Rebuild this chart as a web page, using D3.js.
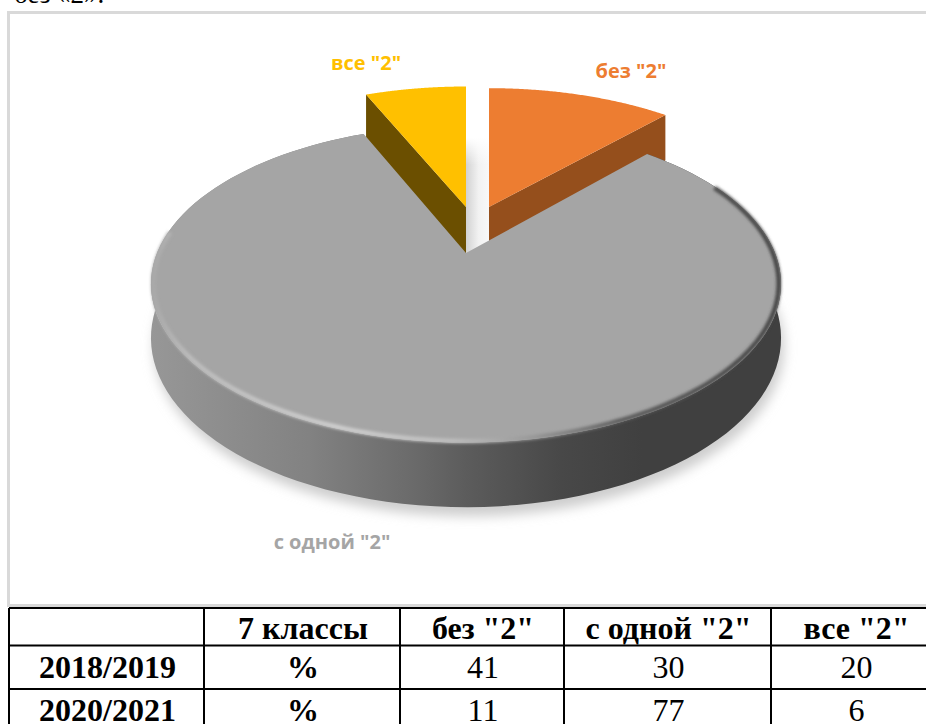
<!DOCTYPE html>
<html><head><meta charset="utf-8">
<script src="https://cdn.jsdelivr.net/npm/d3@7/dist/d3.min.js"></script>
<style>html,body{margin:0;padding:0;background:#fff;overflow:hidden}svg{display:block}</style>
</head><body><svg id="c" width="926" height="724"></svg>
<script>
const categories = ['без "2"', 'с одной "2"', 'все "2"'];
const values = [11, 77, 6];
const sliceColors = ['#ed7d31', '#a5a5a5', '#ffc000'];
const wallColors = ['#954f1c', '#808080', '#6b4f00'];
const tableHeader = ['', '7 классы', 'без "2"', 'с одной "2"', 'все "2"'];
const row1 = ['2018/2019', '%', '41', '30', '20'];
const row2 = ['2020/2021', '%', '11', '77', '6'];

const svg = d3.select('#c');
const defs = svg.append('defs');
const SERIF = '"Liberation Serif","Times New Roman",serif';

function linGrad(id, x1, x2, stops, vertical) {
  const g = defs.append('linearGradient').attr('id', id).attr('gradientUnits', 'userSpaceOnUse');
  if (vertical) g.attr('x1', 0).attr('x2', 0).attr('y1', x1).attr('y2', x2);
  else g.attr('x1', x1).attr('x2', x2).attr('y1', 0).attr('y2', 0);
  stops.forEach(s => g.append('stop').attr('offset', s[0]).attr('stop-color', s[1]));
}
const blur = (id, sd) => defs.append('filter').attr('id', id)
  .attr('x', '-20%').attr('y', '-20%').attr('width', '140%').attr('height', '140%')
  .append('feGaussianBlur').attr('stdDeviation', sd);
blur('b1', 1.4); blur('b2', 6); blur('b3', 1);

linGrad('wall', 151, 781, [[0, '#979797'], [.25, '#828282'], [.42, '#6a6a6a'], [.5, '#5c5c5c'], [.65, '#484848'], [.78, '#404040'], [1, '#404040']]);
linGrad('rim', 151, 781, [[0, '#a8a8a8'], [.06, '#bcbcbc'], [.3, '#cfcfcf'], [.48, '#bdbdbd'], [.6, '#9a9a9a'], [.75, '#5c5c5c'], [1, '#444444']]);
linGrad('gapH', 466, 489, [[0, '#d2d2d2'], [.55, '#f2f2f2'], [1, '#f8f8f8']]);
linGrad('gapV', 138, 165, [[0, '#ffffff'], [1, 'rgba(255,255,255,0)']], true);

// frame
svg.append('rect').attr('x', 8.5).attr('y', 12.5).attr('width', 960).attr('height', 593)
  .attr('fill', '#fff').attr('stroke', '#d9d9d9').attr('stroke-width', 3);

// cropped line above the chart
svg.append('text').attr('x', 14).attr('y', 3).attr('font-family', SERIF).attr('font-size', 27).attr('fill', '#000').text('без «2».');

// pie geometry
const arcs = d3.pie().sort(null)(values);
const geo = [
  {ax: 489, ay: 207, R: 301, H: 142, D: 52},
  {ax: 466, ay: 253, R: 309, H: 152.6, D: 52},
  {ax: 466, ay: 207, R: 302, H: 144, D: 52}
];
const K = 0.195;
function project(g, a, r, drop) {
  const u = r * Math.sin(a), v = -r * Math.cos(a), s = 1 / (1 - K * v);
  return [g.ax + g.R * u * s, g.ay + g.H * v * s + (drop ? g.D * s : 0)];
}
const line = d3.line();
const arcPts = (g, a0, a1, drop) => d3.range(0, 121).map(i => project(g, a0 + (a1 - a0) * i / 120, 1, drop));
const face = (g, d) => line([project(g, 0, 0), ...arcPts(g, d.startAngle, d.endAngle)]) + 'Z';
const radialWall = (g, a) => line([project(g, a, 0), project(g, a, 1), project(g, a, 1, true), project(g, a, 0, true)]) + 'Z';

// shadow
const gg = geo[1], gd = arcs[1];
svg.append('path').attr('filter', 'url(#b2)').attr('fill', '#cdcdcd').attr('transform', 'translate(3,9)')
  .attr('d', line(arcPts(gg, gd.startAngle, gd.endAngle, true)) + 'Z');

// gap between the small slices
svg.append('rect').attr('x', 466).attr('y', 138).attr('width', 24).attr('height', 125).attr('fill', 'url(#gapH)');
svg.append('rect').attr('x', 466).attr('y', 138).attr('width', 24).attr('height', 27).attr('fill', 'url(#gapV)');

// small slices
svg.append('path').attr('fill', wallColors[0]).attr('d', radialWall(geo[0], arcs[0].endAngle));
svg.append('path').attr('fill', wallColors[2]).attr('d', radialWall(geo[2], arcs[2].startAngle));
[0, 2].forEach(i => svg.append('path').attr('fill', sliceColors[i]).attr('d', face(geo[i], arcs[i])));

// main slice: wall, face, rim
svg.append('path').attr('fill', 'url(#wall)').attr('d',
  line([...arcPts(gg, gd.startAngle, gd.endAngle), ...arcPts(gg, gd.startAngle, gd.endAngle, true).reverse()]) + 'Z');
svg.append('path').attr('fill', sliceColors[1]).attr('d', face(gg, gd));
const deg = Math.PI / 180;
svg.append('path').attr('fill', 'none').attr('stroke', 'url(#rim)').attr('stroke-width', 4.5).attr('filter', 'url(#b1)')
  .attr('d', line(d3.range(0, 121).map(i => project(gg, (62 + (278 - 62) * i / 120) * deg, 0.993))));

// labels
const labelPos = [[631, 78], [332, 549], [366, 70]];
svg.selectAll('text.lab').data(categories).join('text').attr('class', 'lab')
  .attr('x', (d, i) => labelPos[i][0]).attr('y', (d, i) => labelPos[i][1])
  .attr('text-anchor', 'middle').attr('font-family', '"Open Sans",sans-serif').attr('font-weight', 700)
  .attr('font-size', 20).attr('fill', (d, i) => sliceColors[i]).text(d => d);

// table
const colX = d3.scaleOrdinal().domain(d3.range(6)).range([9, 204, 400, 564, 771, 940]);
const rowY = d3.scaleOrdinal().domain(d3.range(4)).range([608, 645.5, 689, 732]);
const baselines = [639, 678, 721];
const hl = svg.append('g').attr('stroke', '#000').attr('stroke-width', 2);
d3.range(4).forEach(r => hl.append('line').attr('x1', colX(0)).attr('x2', colX(5)).attr('y1', rowY(r)).attr('y2', rowY(r)));
d3.range(6).forEach(c => hl.append('line').attr('x1', colX(c)).attr('x2', colX(c)).attr('y1', rowY(0)).attr('y2', rowY(3)));
[tableHeader, row1, row2].forEach((row, r) => {
  svg.append('g').selectAll('text').data(row).join('text')
    .attr('x', (d, c) => (colX(c) + colX(c + 1)) / 2 + 1).attr('y', baselines[r])
    .attr('text-anchor', 'middle').attr('font-family', SERIF).attr('font-size', 32).attr('fill', '#000')
    .attr('font-weight', (d, c) => (r === 0 || c < 2) ? 700 : 400).text(d => d);
});
</script></body></html>
